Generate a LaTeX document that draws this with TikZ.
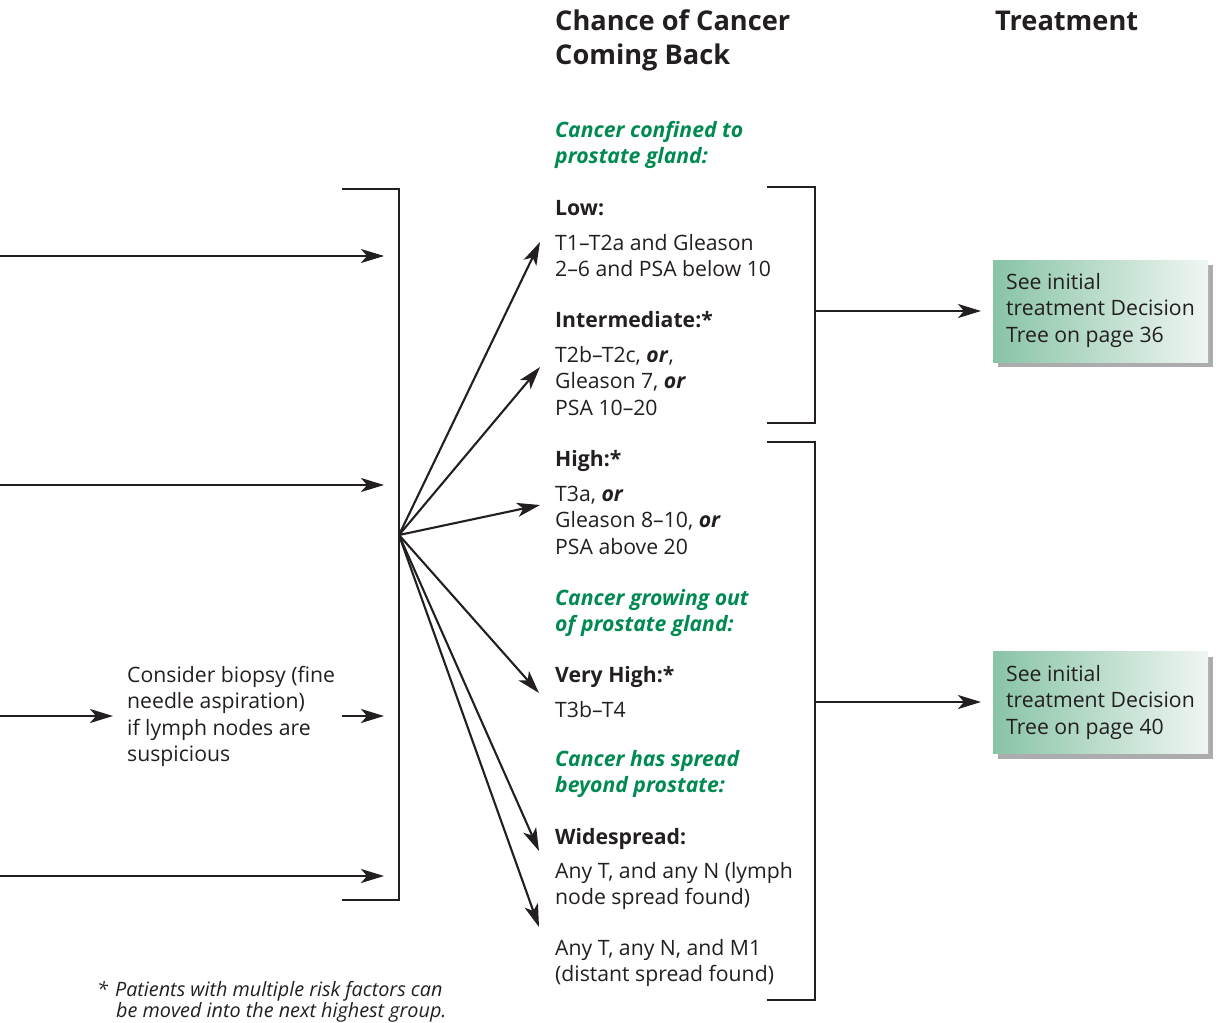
\documentclass[tikz,border=0pt]{standalone}
\usepackage{fontspec}
\setmainfont{Open Sans}
\usetikzlibrary{arrows.meta}
\definecolor{ink}{RGB}{35,31,32}
\definecolor{grn}{RGB}{0,138,82}
\definecolor{boxl}{RGB}{136,196,166}
\definecolor{boxr}{RGB}{240,246,242}
\definecolor{shad}{RGB}{172,172,175}
\begin{document}
\begin{tikzpicture}[x=1pt,y=-1pt,
  txt/.style={anchor=base west, inner sep=0pt, align=left, text=ink, font=\fontsize{21.2}{26.5}\selectfont},
  hdr/.style={anchor=base west, inner sep=0pt, align=left, text=ink, font=\fontsize{27.2}{34}\selectfont\bfseries},
  grnh/.style={txt, text=grn, font=\fontsize{21.2}{26.5}\selectfont\bfseries\itshape},
  lbl/.style={txt, font=\fontsize{21.2}{26.5}\selectfont\bfseries},
  foot/.style={txt, font=\fontsize{19.8}{21}\selectfont\itshape},
  conn/.style={draw=ink, line width=2.1pt, -{Stealth[length=23pt,width=14pt,inset=6pt]}},
  brk/.style={draw=ink, line width=2.4pt},
  tbox/.style={anchor=north west, minimum width=215pt, minimum height=102pt, inner sep=0pt, left color=boxl, right color=boxr, draw=none},
  shbox/.style={anchor=north west, minimum width=215pt, minimum height=102pt, inner sep=0pt, fill=shad, draw=none},
  btxt/.style={txt}
]
\useasboundingbox (0,0) rectangle (1216,1023);

% headers (anchor = baseline of last line)
\node[hdr] (h1) at (555,64) {Chance of Cancer\\Coming Back};
\node[hdr] (h2) at (995,30) {Treatment};

% middle column
\node[grnh] (g1) at (555,163.5) {Cancer confined to\\prostate gland:};
\node[lbl] (low) at (555,215) {Low:};
\node[txt] (lowt) at (555,276.5) {T1–T2a and Gleason\\2–6 and PSA below 10};
\node[lbl] (int) at (555,327) {Intermediate:*};
\node[txt] (intt) at (555,415) {T2b–T2c, \textbf{\textit{or}},\\Gleason 7, \textbf{\textit{or}}\\PSA 10–20};
\node[lbl] (high) at (555,466) {High:*};
\node[txt] (hight) at (555,554) {T3a, \textbf{\textit{or}}\\Gleason 8–10, \textbf{\textit{or}}\\PSA above 20};
\node[grnh] (g2) at (555,631.5) {Cancer growing out\\of prostate gland:};
\node[lbl] (vh) at (555,682) {Very High:*};
\node[txt] (vht) at (555,717) {T3b–T4};
\node[grnh] (g3) at (555,792.5) {Cancer has spread\\beyond prostate:};
\node[lbl] (wide) at (555,844) {Widespread:};
\node[txt] (widet) at (555,904.5) {Any T, and any N (lymph\\node spread found)};
\node[txt] (m1t) at (555,981.5) {Any T, any N, and M1\\(distant spread found)};

% biopsy text
\node[txt] (bio) at (127,761.5) {Consider biopsy (fine\\needle aspiration)\\if lymph nodes are\\suspicious};

% footnote
\node[foot] (fn) at (97,1017) {*\hspace{7pt}Patients with multiple risk factors can\\\hspace{19pt}be moved into the next highest group.};

% left bracket
\coordinate (lb1) at (342,189);
\coordinate (lb2) at (399,900);
\coordinate (lb3) at (342,900);
\draw[brk] (lb1) -| (lb2) -- (lb3);

% left incoming arrows
\coordinate (a1s) at (0,256);  \coordinate (a1e) at (384,256);
\coordinate (a2s) at (0,485);  \coordinate (a2e) at (384,485);
\coordinate (a3s) at (0,716);  \coordinate (a3e) at (113,716);
\coordinate (a4s) at (342,716); \coordinate (a4e) at (384,716);
\coordinate (a5s) at (0,876);  \coordinate (a5e) at (384,876);
\draw[conn] (a1s) -- (a1e);
\draw[conn] (a2s) -- (a2e);
\draw[conn] (a3s) -- (a3e);
\draw[conn] (a4s) -- (a4e);
\draw[conn] (a5s) -- (a5e);

% fan
\coordinate (fan) at (399,535);
\coordinate (t1) at (540,242);
\coordinate (t2) at (540,367);
\coordinate (t3) at (540,505);
\coordinate (t4) at (539,693);
\coordinate (t5) at (539,851);
\coordinate (t6) at (539,927);
\foreach \t in {t1,t2,t3,t4,t5,t6} \draw[conn] (fan) -- (\t);

% right brackets
\coordinate (rb1) at (767,187);
\coordinate (rb2) at (815,423);
\coordinate (rb3) at (767,423);
\draw[brk] (rb1) -| (rb2) -- (rb3);
\coordinate (rc1) at (767,442);
\coordinate (rc2) at (815,1000);
\coordinate (rc3) at (767,1000);
\draw[brk] (rc1) -| (rc2) -- (rc3);

% treatment boxes
\node[shbox] (s1) at (998,265) {};
\node[tbox] (b1) at (993,260) {};
\node[btxt] (b1t) at (1006,342) {See initial\\treatment Decision\\Tree on page 36};
\node[shbox] (s2) at (998,657) {};
\node[tbox] (b2) at (993,651) {};
\node[btxt] (b2t) at (1006,734) {See initial\\treatment Decision\\Tree on page 40};

\coordinate (r1) at (815,311);
\coordinate (r2) at (815,702);
\draw[conn, shorten >=12pt] (r1) -- (r1 -| b1.west);
\draw[conn, shorten >=12pt] (r2) -- (r2 -| b2.west);
\end{tikzpicture}
\end{document}
